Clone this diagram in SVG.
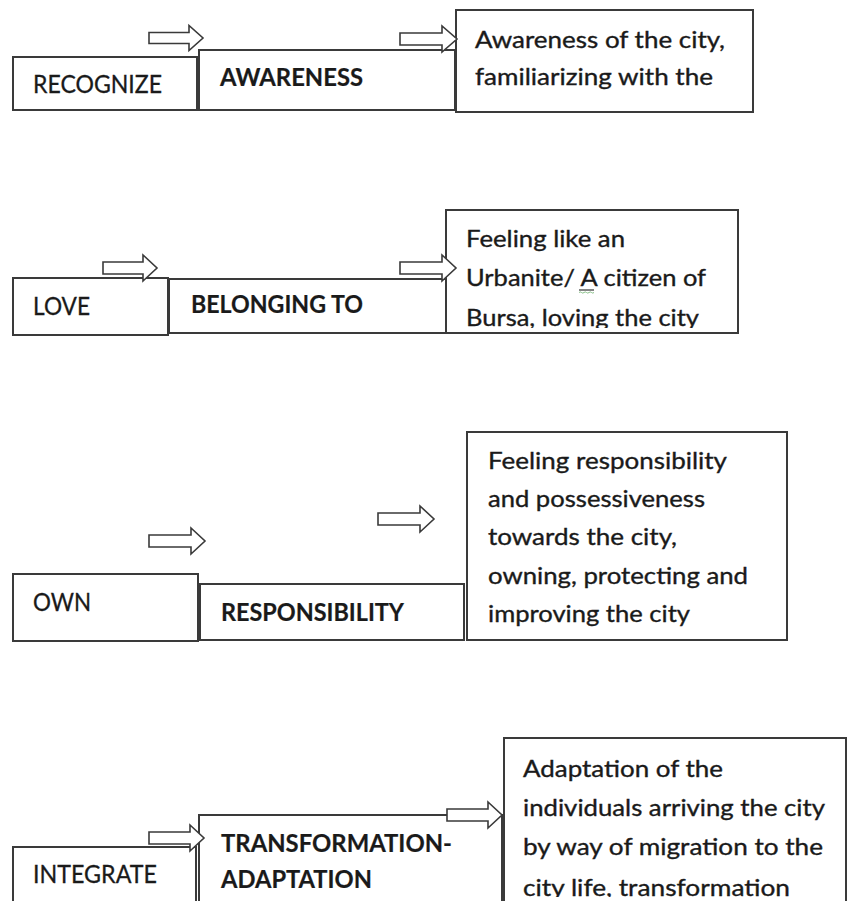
<svg xmlns="http://www.w3.org/2000/svg" width="848" height="901" viewBox="0 0 848 901">
<style>
.box{fill:#fff;stroke:#3a3a3a;stroke-width:2}
.lbl{font-family:Lato,"Open Sans","Liberation Sans",sans-serif;font-size:25px;fill:#1a1a1a;stroke:#1a1a1a;stroke-width:0.3}
.b{font-weight:bold;stroke-width:0.2}
.d{font-family:Lato,"Open Sans","Liberation Sans",sans-serif;font-size:23px;fill:#1a1a1a;stroke:#1a1a1a;stroke-width:0.35}
.arr{fill:#fff;stroke:#3a3a3a;stroke-width:1.6;stroke-linejoin:miter}
</style>
<defs>
<clipPath id="c2"><rect x="447" y="211" width="290" height="117"/></clipPath>
<clipPath id="c4"><rect x="505" y="739" width="343" height="158"/></clipPath>
</defs>
<rect width="848" height="901" fill="#fff"/>
<g id="recognize"><rect class="box" x="13" y="57" width="184" height="53"/><text class="lbl" x="33" y="93" textLength="129" lengthAdjust="spacingAndGlyphs">RECOGNIZE</text></g>
<g id="awareness"><rect class="box" x="199" y="50" width="256" height="60"/><text class="lbl b" x="220" y="86" textLength="143" lengthAdjust="spacingAndGlyphs">AWARENESS</text></g>
<g id="awareness-desc"><rect class="box" x="456" y="10" width="297" height="102"/>
<text class="d" x="475" y="48" textLength="250" lengthAdjust="spacingAndGlyphs">Awareness of the city,</text>
<text class="d" x="475" y="85" textLength="238" lengthAdjust="spacingAndGlyphs">familiarizing with the</text></g>
<g id="love"><rect class="box" x="13" y="278" width="155" height="57"/><text class="lbl" x="33" y="315" textLength="57" lengthAdjust="spacingAndGlyphs">LOVE</text></g>
<g id="belonging"><rect class="box" x="169" y="279" width="277" height="54"/><text class="lbl b" x="191" y="313" textLength="172" lengthAdjust="spacingAndGlyphs">BELONGING TO</text></g>
<g id="belonging-desc"><rect class="box" x="446" y="210" width="292" height="123"/>
<g clip-path="url(#c2)">
<text class="d" x="466" y="247" textLength="159" lengthAdjust="spacingAndGlyphs">Feeling like an</text>
<text class="d" x="466" y="286" textLength="240" lengthAdjust="spacingAndGlyphs">Urbanite/ A citizen of</text>
<text class="d" x="466" y="326" textLength="233" lengthAdjust="spacingAndGlyphs">Bursa, loving the city</text>
</g>
<path d="M579,290 h15" stroke="#333" stroke-width="1.2"/>
<path d="M579,292.5 q1.2,-1.2 2.5,0 t2.5,0 t2.5,0 t2.5,0 t2.5,0 t2.5,0" fill="none" stroke="#7ab87a" stroke-width="0.9"/>
</g>
<g id="own"><rect class="box" x="13" y="574" width="185" height="67"/><text class="lbl" x="33" y="611" textLength="58" lengthAdjust="spacingAndGlyphs">OWN</text></g>
<g id="responsibility"><rect class="box" x="200" y="584" width="264" height="56"/><text class="lbl b" x="221" y="621" textLength="183" lengthAdjust="spacingAndGlyphs">RESPONSIBILITY</text></g>
<g id="responsibility-desc"><rect class="box" x="467" y="432" width="320" height="208"/>
<text class="d" x="488" y="469" textLength="239" lengthAdjust="spacingAndGlyphs">Feeling responsibility</text>
<text class="d" x="488" y="507" textLength="217" lengthAdjust="spacingAndGlyphs">and possessiveness</text>
<text class="d" x="488" y="545" textLength="189" lengthAdjust="spacingAndGlyphs">towards the city,</text>
<text class="d" x="488" y="584" textLength="260" lengthAdjust="spacingAndGlyphs">owning, protecting and</text>
<text class="d" x="488" y="622" textLength="202" lengthAdjust="spacingAndGlyphs">improving the city</text></g>
<g id="integrate"><rect class="box" x="13" y="847" width="183" height="70"/><text class="lbl" x="33" y="883" textLength="124" lengthAdjust="spacingAndGlyphs">INTEGRATE</text></g>
<g id="transformation"><rect class="box" x="199" y="815" width="303" height="100"/>
<text class="lbl b" x="221" y="852" textLength="231" lengthAdjust="spacingAndGlyphs">TRANSFORMATION-</text>
<text class="lbl b" x="221" y="888" textLength="151" lengthAdjust="spacingAndGlyphs">ADAPTATION</text></g>
<g id="transformation-desc"><rect class="box" x="504" y="738" width="342" height="180"/>
<g clip-path="url(#c4)">
<text class="d" x="523" y="777" textLength="200" lengthAdjust="spacingAndGlyphs">Adaptation of the</text>
<text class="d" x="523" y="816" textLength="302" lengthAdjust="spacingAndGlyphs">individuals arriving the city</text>
<text class="d" x="523" y="855" textLength="300" lengthAdjust="spacingAndGlyphs">by way of migration to the</text>
<text class="d" x="523" y="896" textLength="267" lengthAdjust="spacingAndGlyphs">city life, transformation</text>
</g></g>
<g id="connectors">
<path class="arr" d="M149,32.5 H189 V25.5 L203,38 L189,50.5 V43.5 H149 Z"/>
<path class="arr" d="M400,33 H442 V26 L457,39 L442,52 V45 H400 Z"/>
<path class="arr" d="M103,262 H143 V255 L157,268 L143,281 V274 H103 Z"/>
<path class="arr" d="M400,262 H442 V255 L456,268 L442,281 V274 H400 Z"/>
<path class="arr" d="M149,535 H191 V528 L205,541 L191,554 V547 H149 Z"/>
<path class="arr" d="M378,513 H420 V506 L434,519 L420,532 V525 H378 Z"/>
<path class="arr" d="M149,832 H190 V825 L204,838 L190,851 V844 H149 Z"/>
<path class="arr" d="M447,809 H488 V802 L502,815 L488,828 V821 H447 Z"/>
</g>
</svg>
